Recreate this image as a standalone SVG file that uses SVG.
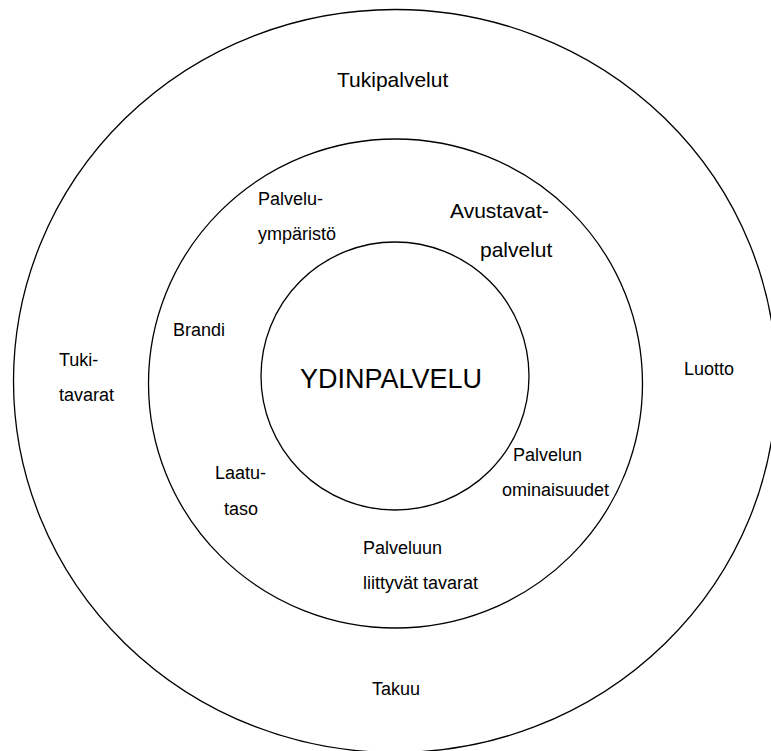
<svg xmlns="http://www.w3.org/2000/svg" width="771" height="751" viewBox="0 0 771 751">
  <style>
    .ring { fill: none; stroke: #000; stroke-width: 1.3; }
    .lbl { font-family: "Liberation Sans", Arial, sans-serif; font-size: 18px; fill: #000; }
    .title { font-size: 21px; }
    .core { font-size: 27px; }
  </style>
  <rect width="771" height="751" fill="#fff"/>

  <!-- Outer ring: support services -->
  <g id="tukipalvelut">
    <ellipse class="ring" cx="395" cy="381" rx="381.5" ry="371.5"/>
    <text class="lbl title" x="337" y="87">Tukipalvelut</text>
    <text class="lbl" x="59" y="366">Tuki-</text>
    <text class="lbl" x="59" y="401">tavarat</text>
    <text class="lbl" x="684" y="375">Luotto</text>
    <text class="lbl" x="372" y="695">Takuu</text>
  </g>

  <!-- Middle ring: facilitating services -->
  <g id="avustavat-palvelut">
    <ellipse class="ring" cx="395.5" cy="383.5" rx="247" ry="244.5"/>
    <text class="lbl title" x="450" y="218">Avustavat-</text>
    <text class="lbl title" x="480" y="257">palvelut</text>
    <text class="lbl" x="258" y="205">Palvelu-</text>
    <text class="lbl" x="258" y="240">ympäristö</text>
    <text class="lbl" x="173" y="336">Brandi</text>
    <text class="lbl" x="215" y="479">Laatu-</text>
    <text class="lbl" x="224" y="515">taso</text>
    <text class="lbl" x="513" y="461">Palvelun</text>
    <text class="lbl" x="502" y="496">ominaisuudet</text>
    <text class="lbl" x="363" y="554">Palveluun</text>
    <text class="lbl" x="363" y="589">liittyvät tavarat</text>
  </g>

  <!-- Core service -->
  <g id="ydinpalvelu">
    <circle class="ring" cx="395" cy="376" r="134"/>
    <text class="lbl core" x="300" y="388">YDINPALVELU</text>
  </g>

  <g id="connectors"/>
</svg>
